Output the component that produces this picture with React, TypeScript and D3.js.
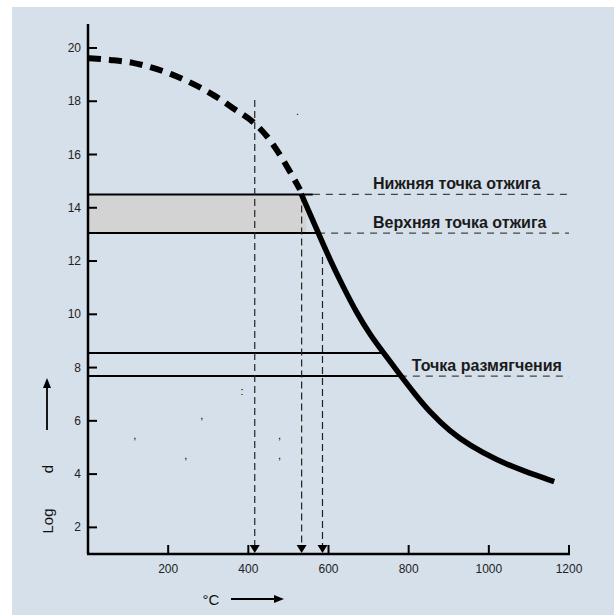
import React from "react";
import * as d3 from "d3";

// ---- data ----
const xTicks = [200, 400, 600, 800, 1000, 1200];
const yTicks = [2, 4, 6, 8, 10, 12, 14, 16, 18, 20];

// viscosity curve, extrapolated (dashed) part
const dashedT = [0, 55, 112, 162, 212, 262, 312, 362, 417, 447, 474, 504, 529];
const dashedV = [19.62, 19.55, 19.44, 19.25, 18.99, 18.65, 18.24, 17.74, 17.15, 16.67, 16.1, 15.35, 14.68];
// measured (solid) part
const solidT = [532, 575, 604, 637, 670, 704, 740, 778, 812, 853, 903, 953, 1020, 1086, 1163];
const solidV = [14.52, 13.04, 12.04, 11.02, 10.06, 9.22, 8.5, 7.74, 7.07, 6.32, 5.6, 5.07, 4.52, 4.12, 3.72];

// horizontal reference levels
const levelV = [14.5, 13.05, 8.55, 7.68];
const levelSolidEnd = [561, 574, 738, 778];
const levelDashed = [true, true, false, true];
const levelLabels = ["Нижняя точка отжига", "Верхняя точка отжига", "", "Точка размягчения"];
const labelStartT = [711, 711, 0, 808];

// vertical drop lines
const dropT = [416, 533, 585];
const dropTop = [18.05, 14.5, 12.15];

// stray glyphs in the original
const strayT = [117, 244, 284, 384, 478, 478, 523];
const strayV = [5.47, 4.72, 6.22, 7.12, 5.47, 4.72, 17.62];
const strayS = [",", ",", ",", ":", ",", ",", "."];

const W = 614;
const H = 615;

export default function App() {
  const x = d3.scaleLinear().domain([0, 1200]).range([88, 569]);
  const y = d3.scaleLinear().domain([1, 20.9]).range([554, 24]);
  const font = "'Liberation Sans', Arial, sans-serif";

  const dashedLine = d3
    .line<[number, number]>()
    .x((d) => x(d[0]))
    .y((d) => y(d[1]))
    .curve(d3.curveMonotoneX);
  const solidLine = d3
    .line<[number, number]>()
    .x((d) => x(d[0]))
    .y((d) => y(d[1]))
    .curve(d3.curveBasis);

  const dashedPts = dashedT.map((t, i) => [t, dashedV[i]] as [number, number]);
  const solidPts = solidT.map((t, i) => [t, solidV[i]] as [number, number]);

  const x0 = x(0);
  const yb = y(1);

  return (
    <svg
      width={W}
      height={H}
      style={{ position: "absolute", left: 0, top: 0 }}
      fontFamily={font}
    >
      <rect x={0} y={0} width={W} height={H} fill="#ffffff" />
      <rect x={12} y={7} width={W - 12} height={H - 7} fill="#d6e0ea" />

      {/* gray band between annealing points */}
      <rect
        x={x0}
        y={y(levelV[0])}
        width={x(545) - x0}
        height={y(levelV[1]) - y(levelV[0])}
        fill="#d3d3d3"
      />

      {/* horizontal level lines */}
      {levelV.map((v, i) => (
        <g key={"lv" + i}>
          <line
            x1={x0}
            x2={x(levelSolidEnd[i])}
            y1={y(v)}
            y2={y(v)}
            stroke="#000"
            strokeWidth={2}
          />
          {levelDashed[i] && (
            <line
              x1={x(levelSolidEnd[i])}
              x2={x(1200)}
              y1={y(v)}
              y2={y(v)}
              stroke="#444"
              strokeWidth={1.2}
              strokeDasharray="7,6"
            />
          )}
          {levelLabels[i] && (
            <text
              x={x(labelStartT[i])}
              y={y(v) - 5}
              fontSize={16}
              fontWeight="bold"
              fill="#1a1a1a"
            >
              {levelLabels[i]}
            </text>
          )}
        </g>
      ))}

      {/* vertical drop lines with arrowheads */}
      {dropT.map((t, i) => (
        <g key={"dr" + i}>
          <line
            x1={x(t)}
            x2={x(t)}
            y1={y(dropTop[i])}
            y2={yb - 8}
            stroke="#222"
            strokeWidth={1.2}
            strokeDasharray="7,4"
          />
          <path
            d={`M${x(t) - 5},${yb - 9} L${x(t) + 5},${yb - 9} L${x(t)},${yb - 1} Z`}
            fill="#000"
          />
        </g>
      ))}

      {/* curve */}
      <path
        d={dashedLine(dashedPts) || ""}
        fill="none"
        stroke="#000"
        strokeWidth={6}
        strokeDasharray="13,8"
      />
      <path
        d={solidLine(solidPts) || ""}
        fill="none"
        stroke="#000"
        strokeWidth={5.5}
      />

      {/* axes */}
      <line x1={x0} x2={x0} y1={24} y2={yb} stroke="#000" strokeWidth={2.5} />
      <line x1={x0 - 1} x2={x(1200) + 1} y1={yb} y2={yb} stroke="#000" strokeWidth={2.5} />
      {yTicks.map((v) => (
        <g key={"yt" + v}>
          <line x1={x0} x2={x0 + 9} y1={y(v)} y2={y(v)} stroke="#000" strokeWidth={2} />
          <text
            x={x0 - 7}
            y={y(v)}
            textAnchor="end"
            dominantBaseline="central"
            fontSize={12}
            fill="#222"
          >
            {v}
          </text>
        </g>
      ))}
      {xTicks.map((v) => (
        <g key={"xt" + v}>
          <line x1={x(v)} x2={x(v)} y1={yb} y2={yb - 9} stroke="#000" strokeWidth={2} />
          <text
            x={x(v)}
            y={yb + 15}
            textAnchor="middle"
            dominantBaseline="central"
            fontSize={12}
            fill="#222"
          >
            {v}
          </text>
        </g>
      ))}

      {/* axis titles */}
      <text
        x={211}
        y={599}
        textAnchor="middle"
        dominantBaseline="central"
        fontSize={15}
        fill="#111"
      >
        °C
      </text>
      <line x1={231} x2={276} y1={599} y2={599} stroke="#000" strokeWidth={1.8} />
      <path d="M274,595 L284,599 L274,603 Z" fill="#000" />

      <text
        transform="translate(47,521) rotate(-90)"
        textAnchor="middle"
        dominantBaseline="central"
        fontSize={15}
        fill="#111"
      >
        Log
      </text>
      <text
        transform="translate(47,469) rotate(-90)"
        textAnchor="middle"
        dominantBaseline="central"
        fontSize={15}
        fill="#111"
      >
        d
      </text>
      <line x1={47} x2={47} y1={430} y2={386} stroke="#000" strokeWidth={1.8} />
      <path d="M43,388 L47,378 L51,388 Z" fill="#000" />

      {/* stray glyphs */}
      {strayT.map((t, i) => (
        <text
          key={"st" + i}
          x={x(t)}
          y={y(strayV[i])}
          textAnchor="middle"
          dominantBaseline="central"
          fontSize={11}
          fill="#000"
        >
          {strayS[i]}
        </text>
      ))}
    </svg>
  );
}
